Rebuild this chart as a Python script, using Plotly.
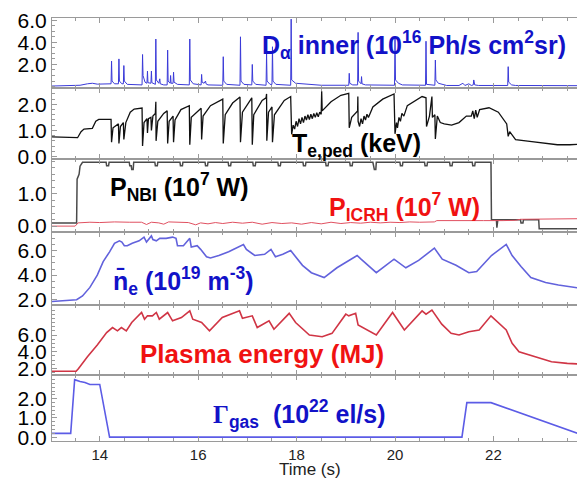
import plotly.graph_objects as go

# ---------------- data ----------------
dalpha_t = [13.03, 13.40, 13.60, 13.75, 13.85, 13.95, 14.10, 14.23, 14.24, 14.25, 14.30, 14.38, 14.39, 14.40,
            14.45, 14.48, 14.49, 14.50, 14.56, 14.86, 14.87, 14.88, 14.92, 14.96, 14.97, 14.98, 15.04, 15.05,
            15.06, 15.13, 15.14, 15.15, 15.20, 15.22, 15.23, 15.30, 15.37, 15.38, 15.39, 15.43, 15.44, 15.45,
            15.49, 15.50, 15.51, 15.58, 15.82, 15.83, 15.84, 15.90, 16.06, 16.07, 16.08, 16.12, 16.15, 16.16,
            16.20, 16.50, 16.51, 16.52, 16.58, 16.85, 16.86, 16.87, 16.93, 17.09, 17.10, 17.11, 17.17, 17.38,
            17.39, 17.40, 17.46, 17.50, 17.51, 17.52, 17.58, 17.88, 17.89, 17.90, 17.98, 18.20, 18.50, 19.06,
            19.07, 19.08, 19.14, 19.24, 19.25, 19.26, 19.31, 19.32, 19.33, 19.40, 19.99, 20.00, 20.01, 20.07,
            20.15, 20.62, 20.63, 20.64, 20.81, 20.82, 20.83, 20.88, 20.95, 21.05, 21.30, 21.38, 21.42, 21.50,
            21.55, 21.59, 21.60, 21.62, 21.70, 22.29, 22.30, 22.31, 22.37, 22.45, 23.82]
dalpha_v = [0.05, 0.06, 0.12, 0.25, 0.30, 0.22, 0.25, 0.25, 2.3, 0.5, 0.25, 0.25, 2.5, 0.5,
            0.25, 0.25, 1.9, 0.5, 0.2, 0.15, 2.9, 1.0, 0.4, 0.3, 1.4, 0.35, 0.3, 1.4,
            0.35, 0.2, 4.3, 0.6, 0.3, 0.7, 0.25, 0.15, 0.15, 3.3, 0.5, 0.3, 1.0, 0.3,
            0.3, 1.3, 0.4, 0.2, 0.15, 4.3, 0.6, 0.25, 0.15, 1.1, 0.4, 0.3, 0.5, 0.25,
            0.15, 0.12, 2.7, 0.5, 0.2, 0.12, 4.5, 0.5, 0.2, 0.15, 2.0, 0.5, 0.2, 0.12,
            3.0, 0.5, 0.2, 0.2, 3.6, 0.5, 0.2, 0.12, 6.1, 0.6, 0.3, 0.2, 0.12, 0.12,
            1.2, 0.3, 0.15, 0.15, 4.9, 0.5, 0.25, 0.9, 0.25, 0.15, 0.12, 4.3, 0.6, 0.3,
            0.15, 0.12, 4.1, 0.2, 0.12, 2.4, 0.6, 0.3, 0.2, 0.1, 0.1, 0.3, 0.1, 0.25,
            0.1, 0.15, 0.6, 0.15, 0.1, 0.1, 1.8, 0.4, 0.15, 0.1, 0.08]

te_t = [13.03, 13.55, 13.62, 13.68, 13.85, 13.92, 13.98, 14.23, 14.24, 14.27,
        14.38, 14.39, 14.42, 14.48, 14.49, 14.53, 14.62, 14.70, 14.86, 14.87,
        14.90, 14.96, 14.97, 14.99, 15.04, 15.05, 15.08, 15.13, 15.14, 15.145,
        15.18, 15.30, 15.37, 15.38, 15.41, 15.49, 15.50, 15.53, 15.65, 15.82,
        15.83, 15.86, 16.06, 16.07, 16.10, 16.25, 16.50, 16.51, 16.55, 16.70,
        16.85, 16.86, 16.90, 17.09, 17.10, 17.13, 17.30, 17.38, 17.39, 17.395,
        17.43, 17.50, 17.51, 17.55, 17.75, 17.88, 17.90, 17.93, 17.96, 17.99,
        18.02, 18.05, 18.08, 18.11, 18.14, 18.17, 18.20, 18.23, 18.26, 18.29,
        18.32, 18.35, 18.38, 18.41, 18.44, 18.47, 18.50, 18.51, 18.52, 18.70,
        18.90, 19.06, 19.07, 19.12, 19.24, 19.245, 19.25, 19.28, 19.31, 19.34,
        19.37, 19.40, 19.43, 19.46, 19.55, 19.75, 19.98, 20.00, 20.03, 20.05,
        20.08, 20.11, 20.14, 20.18, 20.25, 20.55, 20.63, 20.64, 20.70, 20.75,
        20.76, 20.81, 20.82, 20.86, 20.92, 21.00, 21.15, 21.30, 21.45, 21.55,
        21.58, 21.61, 21.64, 21.67, 21.72, 21.91, 22.10, 22.27, 22.30, 22.33,
        22.45, 22.78, 23.05, 23.30, 23.55, 23.82]
te_v = [0.75, 0.72, 0.95, 1.05, 1.08, 1.35, 1.42, 1.42, 0.55, 1.10,
        1.25, 0.50, 1.15, 1.30, 0.65, 1.30, 1.70, 1.82, 1.86, 0.40,
        1.30, 1.45, 0.90, 1.45, 1.50, 1.00, 1.55, 1.65, 2.10, 0.60,
        1.35, 1.65, 1.75, 0.50, 1.35, 1.55, 0.55, 1.40, 1.80, 1.95,
        0.45, 1.50, 1.85, 0.65, 1.55, 1.95, 2.20, 0.50, 1.60, 2.05,
        2.28, 0.55, 1.70, 2.25, 0.45, 1.60, 2.15, 2.25, 2.40, 0.60,
        1.70, 1.90, 0.55, 1.60, 2.15, 2.30, 0.85, 1.20, 1.05, 1.35,
        1.15, 1.45, 1.25, 1.50, 1.30, 1.55, 1.40, 1.60, 1.42, 1.62,
        1.45, 1.65, 1.50, 1.68, 1.52, 1.70, 1.62, 2.50, 1.75, 2.10,
        2.35, 2.42, 1.10, 1.50, 1.75, 2.30, 1.35, 1.15, 1.45, 1.25,
        1.55, 1.40, 1.62, 1.50, 1.90, 2.20, 2.40, 0.87, 1.30, 1.10,
        1.50, 1.35, 1.65, 1.55, 1.95, 2.30, 2.25, 1.15, 1.55, 2.30,
        1.50, 1.60, 0.67, 1.55, 1.30, 1.25, 1.20, 1.30, 1.55, 1.55,
        1.75, 1.45, 1.78, 1.50, 1.80, 1.87, 1.70, 1.25, 0.77, 0.95,
        0.65, 0.57, 0.50, 0.45, 0.45, 0.48]

nbi_t = [13.03, 13.53, 13.54, 13.58, 13.60, 13.65, 14.13, 14.14, 14.18, 14.19, 14.60, 14.61, 14.64, 14.65,
         14.68, 14.69, 15.12, 15.13, 15.17, 15.18, 15.63, 15.64, 15.68, 15.69, 16.14, 16.15, 16.19, 16.20,
         16.61, 16.62, 16.66, 16.67, 17.11, 17.12, 17.16, 17.17, 17.62, 17.63, 17.67, 17.68, 18.13, 18.14,
         18.18, 18.19, 18.59, 18.60, 18.64, 18.65, 19.08, 19.09, 19.13, 19.14, 19.55, 19.56, 19.58, 19.61,
         19.62, 20.10, 20.11, 20.15, 20.16, 20.60, 20.61, 20.65, 20.66, 21.11, 21.12, 21.16, 21.17, 21.57,
         21.58, 21.62, 21.63, 21.95, 21.96, 22.06, 22.07, 22.09, 22.55, 22.56, 22.60, 22.61, 22.92, 22.93,
         23.82]
nbi_v = [0.10, 0.10, 1.45, 1.60, 1.85, 1.97, 1.97, 1.86, 1.86, 1.97, 1.97, 1.86, 1.86, 1.75,
         1.75, 1.97, 1.97, 1.86, 1.86, 1.97, 1.97, 1.86, 1.86, 1.97, 1.97, 1.86, 1.86, 1.97,
         1.97, 1.86, 1.86, 1.97, 1.97, 1.86, 1.86, 1.97, 1.97, 1.86, 1.86, 1.97, 1.97, 1.86,
         1.86, 1.97, 1.97, 1.86, 1.86, 1.97, 1.97, 1.86, 1.86, 1.97, 1.97, 1.86, 1.75, 1.75,
         1.97, 1.97, 1.86, 1.86, 1.97, 1.97, 1.86, 1.86, 1.97, 1.97, 1.86, 1.86, 1.97, 1.97,
         1.86, 1.86, 1.97, 1.97, 0.20, 0.20, -0.05, 0.20, 0.20, 0.10, 0.10, 0.20, 0.20, -0.08,
         -0.08]

icrh_t = [13.03, 13.50, 13.56, 13.80, 14.00, 14.30, 14.60, 14.85, 14.95, 15.05, 15.20, 15.30, 15.40, 15.55,
          15.80, 15.95, 16.05, 16.20, 16.35, 16.50, 16.70, 16.90, 17.10, 17.30, 17.50, 17.70, 17.90, 18.10,
          18.30, 18.50, 18.70, 18.90, 19.10, 19.30, 19.50, 19.70, 19.90, 20.10, 20.30, 20.50, 20.80, 20.85,
          21.30, 21.80, 22.20, 22.45, 22.55, 23.00, 23.82]
icrh_v = [0.00, 0.00, 0.10, 0.12, 0.11, 0.13, 0.12, 0.12, 0.05, 0.12, 0.10, 0.06, 0.13, 0.12,
          0.11, 0.04, 0.10, 0.07, 0.11, 0.08, 0.12, 0.09, 0.12, 0.06, 0.11, 0.08, 0.10, 0.06,
          0.11, 0.07, 0.12, 0.08, 0.11, 0.09, 0.12, 0.10, 0.12, 0.11, 0.13, 0.12, 0.13, 0.17,
          0.16, 0.17, 0.17, 0.18, 0.21, 0.22, 0.23]

ne_t = [13.03, 13.53, 13.65, 13.80, 13.95, 14.07, 14.20, 14.30, 14.40, 14.45, 14.50, 14.56, 14.66, 14.80,
        14.90, 14.95, 15.05, 15.08, 15.15, 15.22, 15.35, 15.48, 15.55, 15.58, 15.70, 15.83, 15.86, 15.98,
        16.05, 16.17, 16.25, 16.42, 16.62, 16.82, 16.92, 16.98, 17.15, 17.35, 17.48, 17.57, 17.72, 17.88,
        18.12, 18.30, 18.56, 18.82, 19.23, 19.31, 19.62, 19.98, 20.22, 20.48, 20.80, 20.96, 21.24, 21.50,
        21.66, 21.96, 22.26, 22.38, 22.56, 22.76, 23.06, 23.32, 23.72, 23.82]
ne_v = [1.85, 2.00, 2.30, 3.00, 4.00, 5.10, 5.90, 6.60, 6.80, 6.70, 6.40, 6.40, 6.60, 6.80,
        7.10, 6.70, 7.20, 6.90, 6.80, 7.00, 7.00, 7.10, 7.00, 6.40, 6.40, 7.00, 6.30, 6.40,
        6.10, 5.50, 5.40, 5.60, 5.90, 6.30, 6.50, 6.10, 5.60, 5.70, 6.10, 5.50, 5.70, 6.00,
        4.80, 4.20, 3.80, 4.60, 5.60, 5.30, 4.20, 5.30, 4.60, 5.20, 6.20, 5.30, 4.80, 4.20,
        4.30, 5.60, 6.50, 5.60, 4.70, 3.80, 3.40, 3.20, 2.96, 2.80]

w_t = [13.03, 13.52, 13.57, 13.75, 13.95, 14.14, 14.26, 14.36, 14.44, 14.54, 14.65, 14.75, 14.85, 14.91,
       14.97, 15.07, 15.15, 15.21, 15.38, 15.48, 15.66, 15.83, 15.89, 16.07, 16.23, 16.49, 16.84, 16.90,
       17.10, 17.20, 17.44, 17.54, 17.85, 17.98, 18.26, 18.52, 18.72, 19.00, 19.06, 19.20, 19.25, 19.62,
       19.95, 20.19, 20.55, 20.63, 20.75, 20.95, 21.14, 21.30, 21.50, 21.71, 21.95, 22.26, 22.38, 22.52,
       22.87, 23.18, 23.50, 23.82]
w_v = [1.65, 1.65, 2.00, 3.40, 4.80, 6.30, 6.90, 6.50, 6.90, 6.50, 7.50, 8.10, 8.70, 7.90,
       8.30, 8.30, 8.70, 7.90, 8.70, 7.70, 8.10, 8.90, 7.90, 7.50, 6.50, 8.10, 8.90, 8.00,
       8.30, 6.90, 7.70, 6.70, 8.60, 7.50, 6.00, 5.80, 6.20, 8.50, 8.30, 8.60, 7.20, 6.00,
       8.70, 6.60, 8.90, 8.50, 9.00, 7.30, 6.20, 6.00, 6.40, 6.60, 8.30, 6.60, 5.00, 4.00,
       3.40, 2.80, 2.60, 2.50]

gas_t = [13.03, 13.41, 13.49, 13.60, 13.70, 13.80, 14.00, 14.20, 21.36, 21.46, 21.95, 23.82]
gas_v = [0.20, 0.20, 3.00, 2.90, 2.85, 2.75, 2.75, 0.00, 0.00, 1.80, 1.80, 0.10]

x_ticks = [14, 16, 18, 20, 22]
panel_ticks = [[2, 4, 6], [0, 1, 2], [0, 1], [2, 4, 6], [2, 4, 6], [0, 1, 2]]

# ---------------- layout helpers ----------------
# the page body keeps its default 8px margin, so the figure is sized to fit inside the window
BODY = 8
WIN_W, WIN_H = 585, 479
FIG_W, FIG_H = WIN_W - BODY, WIN_H - BODY
# plot area in window pixels
AX_L, AX_R, AX_T, AX_B = 52, 584, 10, 441
plot_h = AX_B - AX_T
plot_w = AX_R - AX_L

def py(y):
    return (AX_B - y) / plot_h

def pxf(x):
    return (x - AX_L) / plot_w

bounds = [10, 81, 154, 228, 302, 374, 441]
y_ranges = [[-0.1, 6.2], [-0.11, 2.64], [-0.18, 2.06], [1.6, 7.52], [1.18, 9.65], [-0.2, 3.23]]
y_minor = [0.5, 0.2, 0.2, 0.5, 0.5, 0.2]
x_range = [13.03, 23.82]

FRAME = "#9a9a9a"
BLUE_TXT = "#1212c8"
RED_TXT = "#f01212"
FONT = "Liberation Sans, Arial, sans-serif"

fig = go.Figure()

def add(t, v, panel, color, width):
    sfx = "" if panel == 1 else str(panel)
    fig.add_trace(go.Scatter(x=t, y=v, mode="lines", xaxis="x" + sfx, yaxis="y" + sfx,
                             line=dict(color=color, width=width), showlegend=False, hoverinfo="skip"))

add(dalpha_t, dalpha_v, 1, "#3a3ad8", 1)
add(te_t, te_v, 2, "#111111", 1.3)
add(nbi_t, nbi_v, 3, "#4a4a4a", 1.5)
add(icrh_t, icrh_v, 3, "#e05060", 1)
add(ne_t, ne_v, 4, "#6262dc", 1.6)
add(w_t, w_v, 5, "#d03545", 1.6)
add(gas_t, gas_v, 6, "#5c5ce6", 1.6)

layout = dict(
    width=FIG_W, height=FIG_H,
    margin=dict(l=AX_L - BODY, r=FIG_W - (AX_R - BODY), t=AX_T - BODY, b=FIG_H - (AX_B - BODY)),
    paper_bgcolor="white", plot_bgcolor="white",
    showlegend=False,
    font=dict(family=FONT, color="black"),
)

for i in range(1, 7):
    sfx = "" if i == 1 else str(i)
    dom = [py(bounds[i]), py(bounds[i - 1])]
    layout["yaxis" + sfx] = dict(
        domain=dom, range=y_ranges[i - 1], anchor="x" + sfx,
        tickvals=panel_ticks[i - 1], tickformat=".1f",
        ticks="inside", ticklen=5, tickcolor=FRAME, tickwidth=1,
        minor=dict(ticks="inside", ticklen=3, tickcolor=FRAME, dtick=y_minor[i - 1]),
        showline=True, linecolor=FRAME, linewidth=1, mirror="ticks",
        showgrid=False, zeroline=False, ticklabeloverflow="allow",
        tickfont=dict(size=21, color="black", family=FONT),
    )
    xa = dict(
        domain=[0, 1], range=x_range, anchor="y" + sfx,
        tickvals=x_ticks, ticks="inside", ticklen=5, tickcolor=FRAME, tickwidth=1,
        minor=dict(ticks="inside", ticklen=3, tickcolor=FRAME, dtick=0.5, tick0=14),
        showline=True, linecolor=FRAME, linewidth=1, mirror="ticks",
        showgrid=False, zeroline=False, ticklabeloverflow="allow",
        showticklabels=(i == 6),
        tickfont=dict(size=15, color="#222", family=FONT),
    )
    if i > 1:
        xa["matches"] = "x"
    layout["xaxis" + sfx] = xa

fig.update_layout(**layout)

def label(x, y, text, color, size=25):
    fig.add_annotation(xref="paper", yref="paper", x=pxf(x), y=py(y), text=text,
                       showarrow=False, xanchor="left", yanchor="middle",
                       font=dict(size=size, color=color, family=FONT))

label(260, 38, "<b>D<sub>α</sub> inner (10<sup>16</sup> Ph/s cm<sup>2</sup>sr)</b>", BLUE_TXT)
label(290, 139, "<b>T<sub>e,ped</sub> (keV)</b>", "black")
label(108, 182, "<b>P<sub>NBI</sub> (10<sup>7</sup> W)</b>", "black")
label(328, 203, "<b>P<sub>ICRH</sub> (10<sup>7</sup> W)</b>", RED_TXT)
label(111, 278, "<b>n\u0304<sub>e</sub> (10<sup>19</sup> m<sup>-3</sup>)</b>", BLUE_TXT)
label(138, 352, "<b>Plasma energy (MJ)</b>", RED_TXT, size=26)
label(211, 413, "<b><span style='font-family:Liberation Serif'>Γ</span><sub>gas</sub>  (10<sup>22</sup> el/s)</b>", BLUE_TXT)

fig.add_annotation(xref="paper", yref="paper", x=pxf(310), y=py(470), text="Time (s)",
                   showarrow=False, xanchor="center", yanchor="middle",
                   font=dict(size=17, color="#222", family=FONT))

fig.write_html("out.html")
